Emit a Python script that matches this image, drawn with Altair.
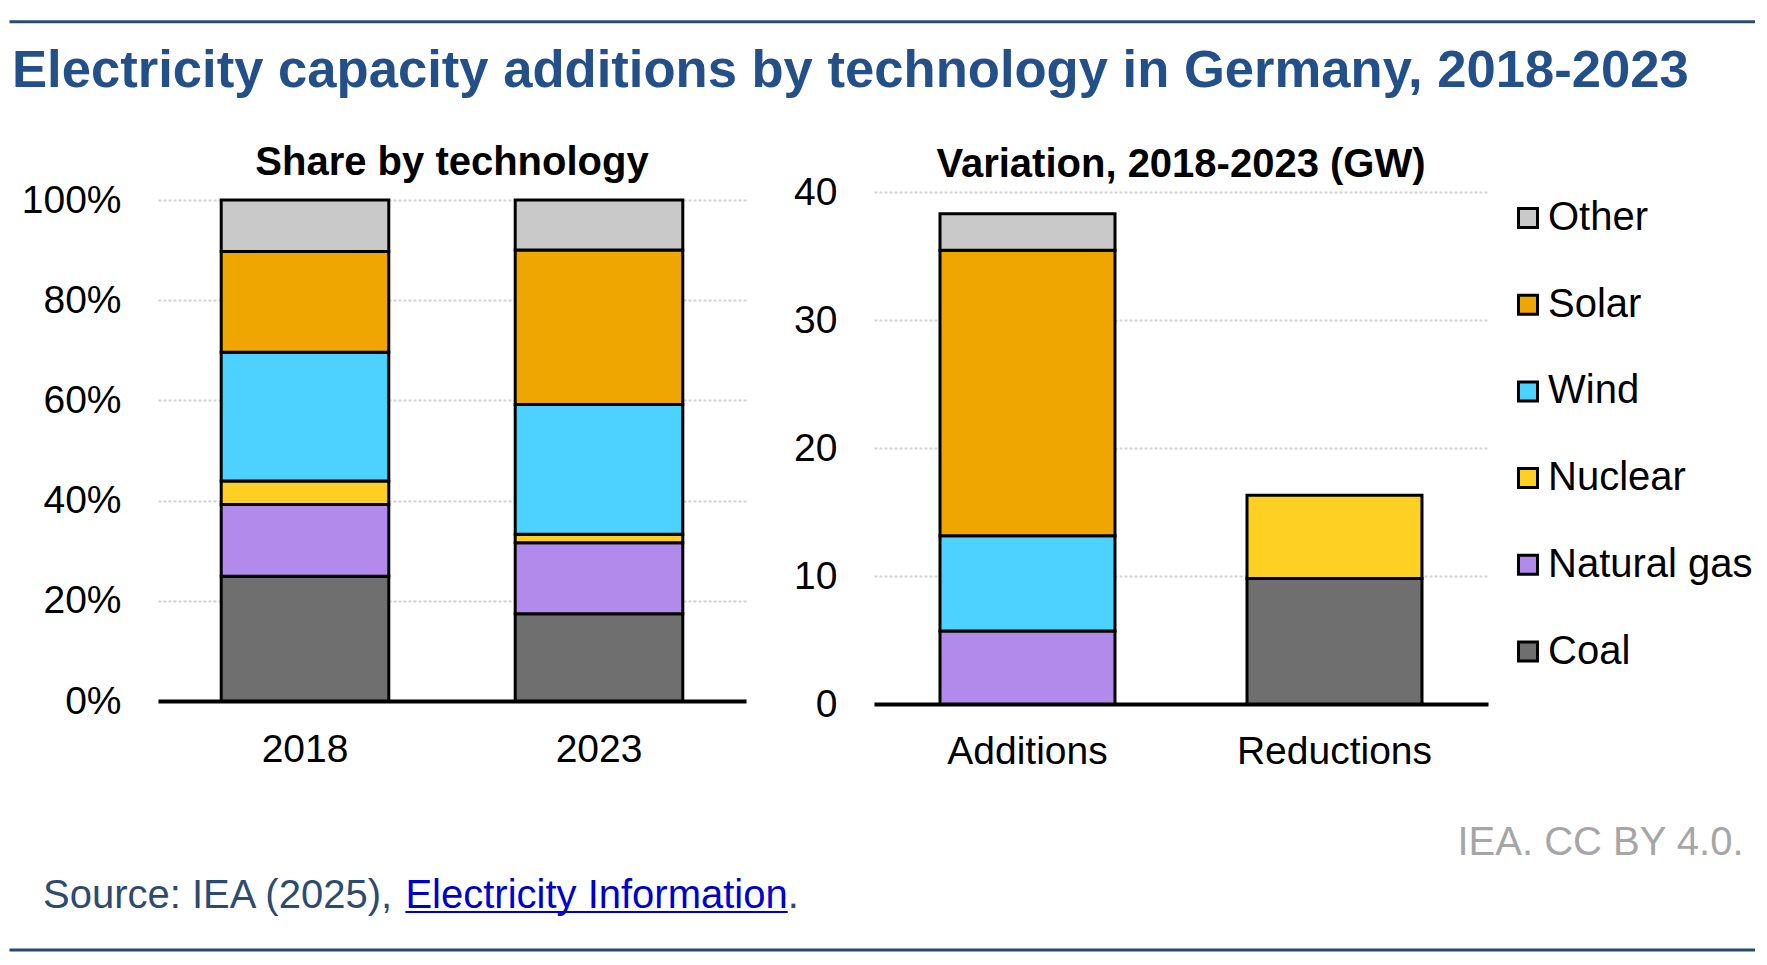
import altair as alt
import pandas as pd

# ---------------- data ----------------
techs = ["Coal", "Natural gas", "Nuclear", "Wind", "Solar", "Other"]
legend_order = ["Other", "Solar", "Wind", "Nuclear", "Natural gas", "Coal"]
legend_colors = ["#C9C9C9", "#EFA600", "#4DD2FF", "#FDD023", "#B18AEB", "#6F6F6F"]

years = ["2018", "2023"]
share_2018 = [24.9, 14.3, 4.7, 25.7, 20.1, 10.3]
share_2023 = [17.4, 14.2, 1.7, 25.9, 30.8, 10.0]

variation_cats = ["Additions", "Reductions"]
additions_gw = [0.0, 5.7, 0.0, 7.45, 22.3, 2.85]
reductions_gw = [9.8, 0.0, 6.5, 0.0, 0.0, 0.0]

share_ticks = [0, 20, 40, 60, 80, 100]
gw_ticks = [0, 10, 20, 30, 40]

main_title = "Electricity capacity additions by technology in Germany, 2018-2023"
left_title = "Share by technology"
right_title = "Variation, 2018-2023 (GW)"
source_lead = "Source: IEA (2025),"
source_link = "Electricity Information"
source_end = "."
licence = "IEA. CC BY 4.0."

# ---------------- tables ----------------
def long_table(cats, series, catname):
    rows = []
    for c, vals in zip(cats, series):
        for rank, (t, v) in enumerate(zip(techs, vals)):
            if v > 0:
                rows.append({catname: c, "tech": t, "value": v, "rank": rank})
    return pd.DataFrame(rows)

df_share = long_table(years, [share_2018, share_2023], "year")
df_var = long_table(variation_cats, [additions_gw, reductions_gw], "cat")

FONT = "Liberation Sans"
LW, LH = 588, 509
RW, RH = 614, 512
SPACING = 128

color_scale = alt.Scale(domain=legend_order, range=legend_colors)

def x_axis(pad):
    return alt.Axis(title=None, labelAngle=0, domain=True, domainColor="black",
                    domainWidth=4, ticks=False, tickSize=0, grid=False,
                    labelFontSize=39, labelColor="black", labelFont=FONT,
                    labelPadding=pad, labelBaseline="alphabetic", labelLimit=0)

def y_axis(values, expr=None):
    kw = dict(values=values, title=None, domain=False, ticks=False, tickSize=0,
              grid=True, gridColor="#D2D2D2", gridDash=[3, 2], gridWidth=2,
              labelFontSize=39, labelColor="black", labelFont=FONT, labelPadding=37,
              labelLimit=0)
    if expr:
        kw["labelExpr"] = expr
    return alt.Axis(**kw)

one = pd.DataFrame({"k": [0]})

# ---------------- left panel ----------------
left_bars = alt.Chart(df_share).mark_bar(stroke="black", strokeWidth=3).encode(
    x=alt.X("year:N", sort=years,
            scale=alt.Scale(paddingInner=0.43, paddingOuter=0.215), axis=x_axis(60)),
    y=alt.Y("value:Q", stack="zero",
            scale=alt.Scale(domain=[0, 101.6], nice=False, zero=True),
            axis=y_axis(share_ticks, "datum.value + '%'")),
    color=alt.Color("tech:N", scale=color_scale, legend=None),
    order=alt.Order("rank:Q", sort="ascending"),
)

def text_layer(txt, x, y, size, color, weight="normal", align="left"):
    return alt.Chart(pd.DataFrame({"t": [txt]})).mark_text(
        font=FONT, fontSize=size, fontWeight=weight, color=color,
        align=align, baseline="alphabetic"
    ).encode(text="t:N", x=alt.value(x), y=alt.value(y))

def hrule(x1, x2, y, color, w):
    return alt.Chart(one).mark_rule(color=color, strokeWidth=w).encode(
        x=alt.value(x1), x2=alt.value(x2), y=alt.value(y))

NAVY = "#2B4A70"
lead_w = 9.06 * 40
link_w = 9.558 * 40
src_x = -115

left = alt.layer(
    left_bars,
    hrule(-148.5, 1597, -170.3, NAVY, 3),
    hrule(-148.5, 1597, 758, NAVY, 3),
    text_layer(main_title, -146, -105, 52.6, "#24508A", "bold"),
    text_layer(left_title, LW / 2, -17, 40, "black", "bold", "center"),
    text_layer(source_lead, src_x, 716, 40, "#2D4B6E"),
    text_layer(source_link, src_x + lead_w, 716, 40, "#0000CC"),
    hrule(src_x + lead_w, src_x + lead_w + link_w, 720, "#0000CC", 2),
    text_layer(source_end, src_x + lead_w + link_w, 716, 40, "#2D4B6E"),
    text_layer(licence, 1585.5, 663, 40, "#A6A6A6", "normal", "right"),
).properties(width=LW, height=LH)

# ---------------- right panel ----------------
right_bars = alt.Chart(df_var).mark_bar(stroke="black", strokeWidth=3).encode(
    x=alt.X("cat:N", sort=variation_cats,
            scale=alt.Scale(paddingInner=0.43, paddingOuter=0.215), axis=x_axis(59)),
    y=alt.Y("value:Q", stack="zero",
            scale=alt.Scale(domain=[0, 40], nice=False), axis=y_axis(gw_ticks)),
    color=alt.Color("tech:N", scale=color_scale,
                    legend=alt.Legend(title=None, orient="none", legendX=634, legendY=6,
                                      symbolType="square", symbolSize=361,
                                      symbolStrokeColor="black", symbolStrokeWidth=3,
                                      labelFontSize=40, labelColor="black", labelFont=FONT,
                                      labelLimit=0, rowPadding=46.7, labelOffset=0,
                                      padding=0)),
    order=alt.Order("rank:Q", sort="ascending"),
)

right = alt.layer(
    right_bars,
    text_layer(right_title, RW / 2, -15, 40, "black", "bold", "center"),
).properties(width=RW, height=RH)

chart = alt.hconcat(left, right, spacing=SPACING, bounds="flush").resolve_scale(
    color="independent"
).properties(
    padding={"left": 0, "top": 12, "right": 0, "bottom": 0},
    background="white",
).configure(font=FONT).configure_view(strokeWidth=0, stroke="transparent")

chart.save("out.html", embed_options={"renderer": "svg", "actions": False})
